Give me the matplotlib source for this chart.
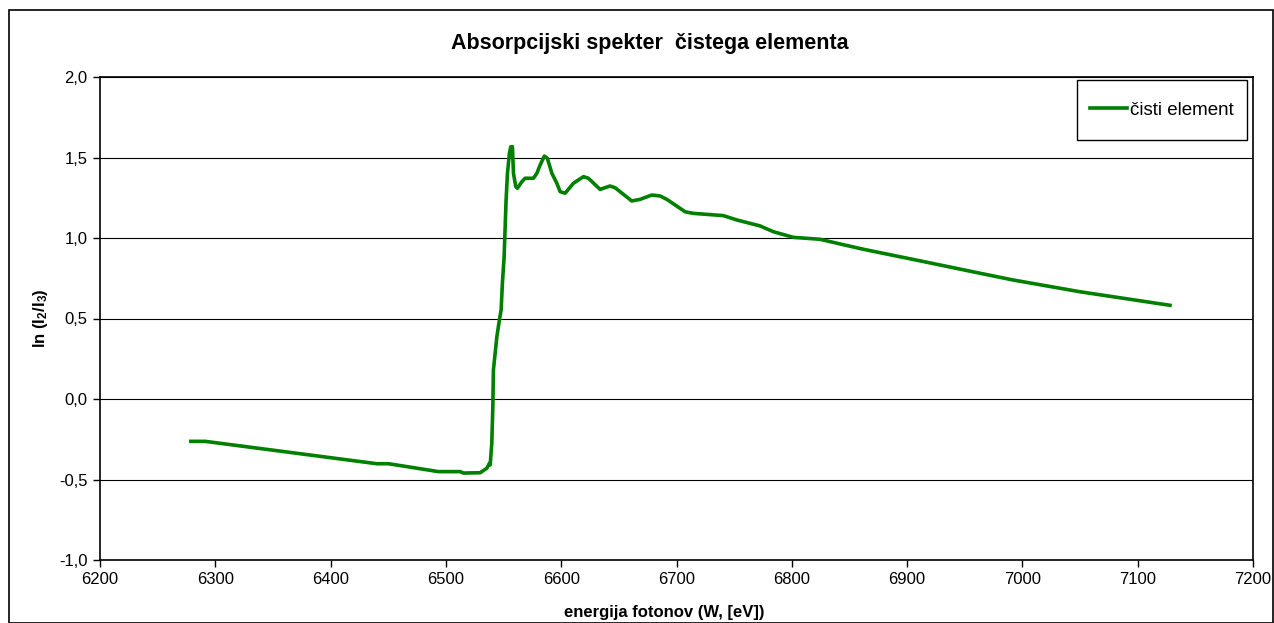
import numpy as np
import matplotlib
matplotlib.use('Agg')
import matplotlib.pyplot as plt
from matplotlib.patches import Rectangle

plt.rcParams['font.family'] = ['Liberation Sans', 'DejaVu Sans']
plt.rcParams['mathtext.fontset'] = 'custom'
plt.rcParams['mathtext.rm'] = 'Liberation Sans:bold'
plt.rcParams['mathtext.it'] = 'Liberation Sans:bold'
plt.rcParams['mathtext.bf'] = 'Liberation Sans:bold'

# photon energy [eV] and ln(I2/I3)
energy = [6278.8, 6291.2, 6440.1, 6450.2, 6493.5, 6512.3, 6515.2, 6529.7,
          6535.5, 6537.8, 6538.4, 6539.8, 6540.7, 6541.2, 6542.7, 6544.2,
          6546.4, 6547.9, 6549.0, 6550.5, 6551.4, 6552.2, 6553.4, 6555.1,
          6556.3, 6557.7, 6558.6, 6560.6, 6562.0, 6565.9, 6568.7, 6575.9,
          6578.9, 6581.7, 6585.4, 6588.0, 6591.9, 6596.2, 6599.1, 6603.4,
          6610.6, 6619.3, 6623.6, 6633.7, 6642.4, 6646.8, 6661.2, 6668.4,
          6678.6, 6685.8, 6691.6, 6707.5, 6714.7, 6740.7, 6752.3, 6772.5,
          6784.0, 6801.4, 6824.5, 6841.9, 6862.1, 6912.0, 6963.3, 6992.1,
          7050.0, 7128.0]
ln_ratio = [-0.263, -0.263, -0.402, -0.402, -0.451, -0.451, -0.460, -0.458,
            -0.430, -0.399, -0.410, -0.275, -0.048, 0.180, 0.284, 0.387,
            0.491, 0.553, 0.719, 0.884, 1.070, 1.236, 1.402, 1.526,
            1.567, 1.567, 1.402, 1.319, 1.309, 1.350, 1.371, 1.371,
            1.402, 1.453, 1.509, 1.495, 1.402, 1.340, 1.288, 1.278,
            1.340, 1.381, 1.371, 1.302, 1.323, 1.312, 1.230, 1.240,
            1.267, 1.261, 1.240, 1.163, 1.153, 1.139, 1.112, 1.075,
            1.039, 1.004, 0.992, 0.963, 0.930, 0.857, 0.781, 0.739,
            0.666, 0.582]

fig = plt.figure(figsize=(12.74, 6.23), dpi=100)
ax = fig.add_axes([100 / 1274, 1 - 560 / 623, 1153 / 1274, 483 / 623])

# outer chart border
fig.patches.append(Rectangle((9 / 1274, 0.5 / 623), 1264 / 1274, 613 / 623,
                             transform=fig.transFigure, fill=False,
                             edgecolor='black', lw=1.2))

ax.plot(energy, ln_ratio, color='#008000', lw=2.6, label='čisti element',
        solid_joinstyle='round')

ax.set_xlim(6200, 7200)
ax.set_ylim(-1.0, 2.0)
ax.set_xticks(np.arange(6200, 7201, 100))
ax.set_yticks(np.arange(-1.0, 2.01, 0.5))
ax.set_yticklabels([f'{v:.1f}'.replace('.', ',') for v in np.arange(-1.0, 2.01, 0.5)])
ax.tick_params(direction='out', length=5, width=1, labelsize=12, pad=4)
ax.grid(axis='y', color='black', lw=0.8)
for s in ax.spines.values():
    s.set_linewidth(1.2)

fig.text(650 / 1274, 1 - 44 / 623, 'Absorpcijski spekter  čistega elementa',
         fontsize=15.5, fontweight='bold', ha='center', va='center')
ax.set_xlabel('energija fotonov (W, [eV])', fontsize=12, fontweight='bold')
ax.xaxis.set_label_coords(564 / 1153, -45 / 483)
ax.set_ylabel(r'ln (I$_2$/I$_3$)', fontsize=12, fontweight='bold')
ax.yaxis.set_label_coords(-50 / 1153, 0.5)

# legend box like the Excel one
ax.add_patch(Rectangle((977 / 1153, 420 / 483), 170 / 1153, 60 / 483,
                       transform=ax.transAxes, fill=False, edgecolor='black',
                       lw=1.0, zorder=5))
ax.legend(loc='center', bbox_to_anchor=(1062 / 1153, 450 / 483), fontsize=13.5,
          frameon=False, borderpad=0, handlelength=2.0, handletextpad=0.15,
          borderaxespad=0)

fig.savefig('out.png', dpi=100)
